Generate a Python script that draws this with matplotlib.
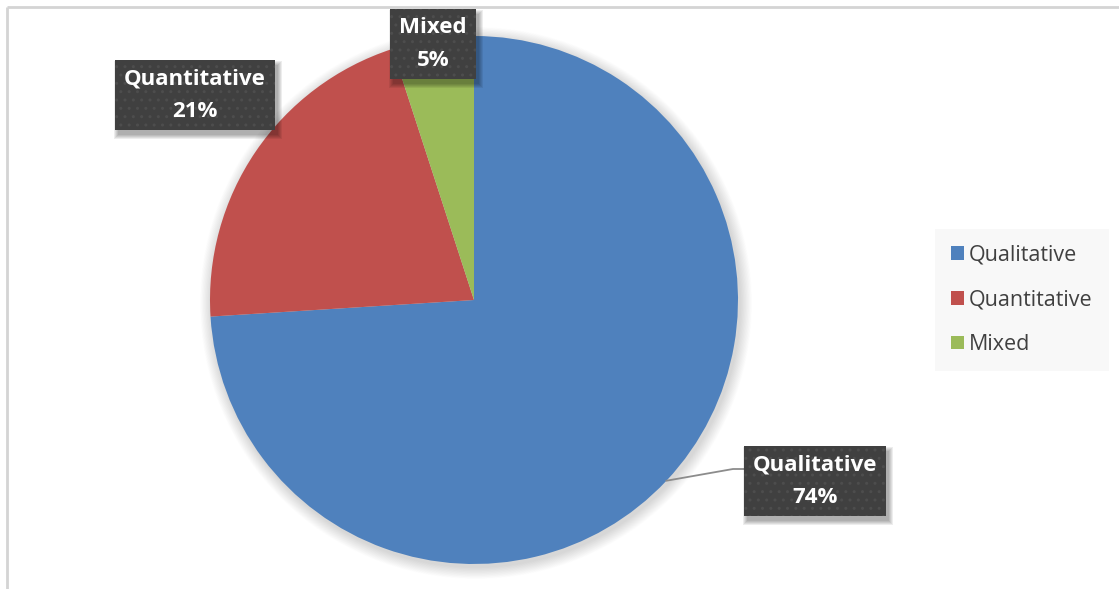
import matplotlib
matplotlib.use("Agg")
import matplotlib.pyplot as plt
from matplotlib.patches import Rectangle
import numpy as np

plt.rcParams['font.family'] = ['Open Sans', 'DejaVu Sans']

# data
categories = ["Qualitative", "Quantitative", "Mixed"]
shares = [74, 21, 5]
colors = ["#4F81BD", "#C0504D", "#9BBB59"]

W, H = 1119, 589
fig = plt.figure(figsize=(W / 100, H / 100), dpi=100)
ax = fig.add_axes([0, 0, 1, 1])

cx, cy, r = 474, H - 300, 264

# soft shadow under the pie
for k in range(20, 0, -1):
    ax.add_patch(plt.Circle((cx + 2, cy - 3), r + k * 0.6, color='black', alpha=0.009, lw=0, zorder=1))

wedges, _ = ax.pie(shares, colors=colors, startangle=90, counterclock=False,
                   center=(cx, cy), radius=r, frame=True,
                   wedgeprops=dict(linewidth=0, zorder=2))
ax.set_xlim(0, W)
ax.set_ylim(0, H)
ax.set_aspect('equal')
ax.axis('off')

# chart frame (top and left edge visible)
ax.plot([7, W], [H - 7, H - 7], color='#d4d4d4', lw=2, solid_capstyle='butt')
ax.plot([7, 7], [0, H - 7], color='#d4d4d4', lw=2, solid_capstyle='butt')

label_pos = [(815, H - 481), (195, H - 95), (433, H - 44)]
texts = []
for cat, val, (lx, ly) in zip(categories, shares, label_pos):
    t = ax.text(lx, ly, f"{cat}\n{val}%", ha='center', va='center', color='white',
                fontsize=16, fontweight='bold', linespacing=1.7, zorder=6)
    texts.append(t)

# dark label boxes sized from the text
fig.canvas.draw()
inv = ax.transData.inverted()
padx, pady = 9, 8.5
for t in texts:
    bb = t.get_window_extent()
    (x0, y0), (x1, y1) = inv.transform([(bb.x0, bb.y0), (bb.x1, bb.y1)])
    x0, x1, y0, y1 = x0 - padx, x1 + padx, y0 - pady, y1 + pady
    # blurred drop shadow
    for g in range(4, -1, -1):
        ax.add_patch(Rectangle((x0 + 3 - g, y0 - 5 - g), x1 - x0 + 2 * g, y1 - y0 + 2 * g,
                               facecolor='black', alpha=0.07, lw=0, zorder=4))
    ax.add_patch(Rectangle((x0, y0), x1 - x0, y1 - y0, facecolor='#404040',
                           edgecolor='#4d4d4d', lw=0, hatch='..', zorder=5))

# leader line for the big slice
ang = np.deg2rad((wedges[0].theta1 + wedges[0].theta2) / 2)
ex, ey = cx + r * np.cos(ang), cy + r * np.sin(ang)
ax.plot([ex, 733, 745], [ey, H - 469, H - 469], color='#8c8c8c', lw=1.3, zorder=3)

leg = ax.legend(wedges, categories, loc='center left', bbox_to_anchor=(941 / W, 1 - 300 / H),
                borderaxespad=0, frameon=True, fontsize=15.5, labelspacing=1.1,
                handlelength=0.6, handleheight=0.6, handletextpad=0.25, borderpad=0.45,
                labelcolor='#404040')
leg.get_frame().set_facecolor('#f7f7f7')
leg.get_frame().set_edgecolor('none')
leg.get_frame().set_boxstyle('square')

fig.savefig('out.png', dpi=100)
